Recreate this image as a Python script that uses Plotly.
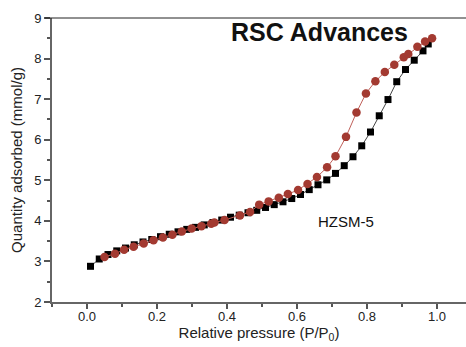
import plotly.graph_objects as go

# Adsorption branch (black squares)
ads_x = [0.01, 0.035, 0.06, 0.085, 0.11, 0.135, 0.16, 0.185, 0.21, 0.235,
         0.26, 0.285, 0.31, 0.335, 0.36, 0.385, 0.41, 0.435, 0.46, 0.485,
         0.51, 0.535, 0.56, 0.585, 0.61, 0.635, 0.66, 0.685, 0.71, 0.735,
         0.76, 0.785, 0.81, 0.835, 0.86, 0.885, 0.91, 0.935, 0.96, 0.975]
ads_y = [2.88, 3.06, 3.17, 3.26, 3.33, 3.41, 3.48, 3.54, 3.61, 3.67,
         3.73, 3.79, 3.84, 3.90, 3.96, 4.02, 4.09, 4.14, 4.20, 4.26,
         4.33, 4.40, 4.47, 4.55, 4.65, 4.77, 4.89, 5.01, 5.17, 5.36,
         5.58, 5.85, 6.19, 6.59, 6.99, 7.43, 7.73, 7.96, 8.19, 8.36]

# Desorption branch (red circles)
des_x = [0.05, 0.08, 0.106, 0.133, 0.162, 0.19, 0.217, 0.244, 0.271, 0.299,
         0.327, 0.355, 0.364, 0.393, 0.437, 0.466, 0.492, 0.519, 0.548, 0.574,
         0.603, 0.63, 0.657, 0.686, 0.71, 0.74, 0.77, 0.797, 0.824, 0.851,
         0.878, 0.905, 0.918, 0.944, 0.966, 0.986]
des_y = [3.11, 3.19, 3.29, 3.36, 3.44, 3.52, 3.59, 3.66, 3.74, 3.81,
         3.87, 3.93, 3.96, 4.02, 4.13, 4.22, 4.40, 4.48, 4.57, 4.66,
         4.76, 4.91, 5.08, 5.32, 5.59, 6.07, 6.67, 7.14, 7.44, 7.67,
         7.85, 8.03, 8.11, 8.29, 8.42, 8.50]

x_ticks = [0.0, 0.2, 0.4, 0.6, 0.8, 1.0]
x_labels = ["0.0", "0.2", "0.4", "0.6", "0.8", "1.0"]
y_ticks = [2, 3, 4, 5, 6, 7, 8, 9]

FONT = "Arial, Liberation Sans, sans-serif"

fig = go.Figure()
fig.add_trace(go.Scatter(
    x=ads_x, y=ads_y, mode="lines+markers",
    line=dict(color="#444444", width=1),
    marker=dict(symbol="square", size=7, color="#000000"),
    showlegend=False))
fig.add_trace(go.Scatter(
    x=des_x, y=des_y, mode="lines+markers",
    line=dict(color="#c0605a", width=1),
    marker=dict(symbol="circle", size=8.5, color="#a33a31"),
    showlegend=False))

fig.add_annotation(x=0.663, y=8.66, text="<b>RSC Advances</b>", showarrow=False,
                   font=dict(family=FONT, size=25, color="#111111"),
                   xanchor="center", yanchor="middle")
fig.add_annotation(x=0.741, y=3.98, text="HZSM-5", showarrow=False,
                   font=dict(family=FONT, size=15, color="#111111"),
                   xanchor="center", yanchor="middle")

# thin top frame line
fig.add_shape(type="line", xref="paper", yref="paper", x0=-0.017, x1=1, y0=1, y1=1,
              line=dict(color="#222222", width=1))

fig.update_layout(
    width=466, height=347,
    margin=dict(l=52, r=0, t=18, b=45),
    paper_bgcolor="white", plot_bgcolor="white",
    font=dict(family=FONT, size=13, color="#222222"),
    xaxis=dict(
        range=[-0.1, 1.0829], tickvals=x_ticks, ticktext=x_labels,
        showgrid=False, zeroline=False,
        showline=True, linecolor="#666666", linewidth=2,
        ticks="outside", ticklen=5, tickwidth=1.5, tickcolor="#555555",
        ticklabelstandoff=-4,
        minor=dict(dtick=0.1, tick0=-0.1, ticks="outside", ticklen=3, tickwidth=1.5, tickcolor="#555555"),
        tickfont=dict(size=13, color="#222222"),
        title=dict(text="Relative pressure (P/P<sub>0</sub>)", font=dict(size=15, color="#222222"), standoff=2),
    ),
    yaxis=dict(
        range=[2, 9], tickvals=y_ticks,
        showgrid=False, zeroline=False,
        showline=True, linecolor="#666666", linewidth=2,
        ticks="outside", ticklen=6, tickwidth=1.5, tickcolor="#555555",
        minor=dict(dtick=0.5, ticks="outside", ticklen=3, tickwidth=1.5, tickcolor="#555555"),
        tickfont=dict(size=13, color="#222222"),
        title=dict(text="Quantity adsorbed (mmol/g)", font=dict(size=15, color="#222222"), standoff=8),
    ),
)

fig.write_html("out.html")
